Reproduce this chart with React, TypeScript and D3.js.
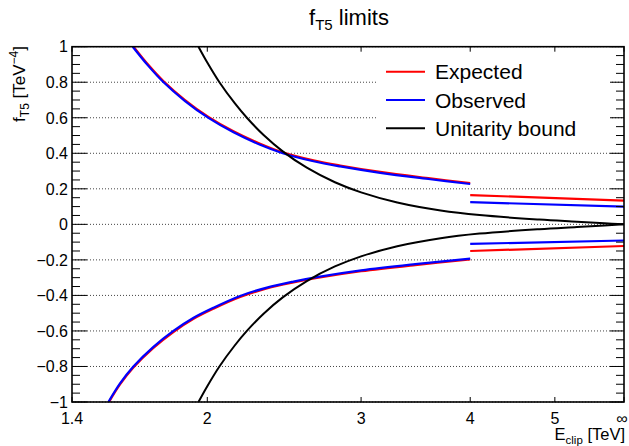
import React, { useEffect, useRef } from 'react';
import * as d3 from 'd3';

const W = 629;
const H = 446;
const FONT = 'Liberation Sans, Arial, Helvetica, sans-serif';

// limits below 4 TeV (upper branch)
const upperE = [1.643, 1.712, 1.781, 1.886, 2.006, 2.143, 2.299, 2.435, 2.646, 2.839, 3.155, 3.601, 4.0];
const upperObs = [1.0, 0.892, 0.801, 0.694, 0.599, 0.518, 0.448, 0.402, 0.355, 0.326, 0.29, 0.254, 0.227];
const upperExp = [1.006, 0.898, 0.807, 0.7, 0.605, 0.524, 0.454, 0.407, 0.36, 0.331, 0.295, 0.259, 0.232];

// limits below 4 TeV (lower branch)
const lowerE = [1.541, 1.589, 1.646, 1.734, 1.829, 1.927, 2.033, 2.181, 2.34, 2.51, 2.67, 3.0, 3.46, 4.0];
const lowerObs = [-1.0, -0.895, -0.8, -0.691, -0.6, -0.527, -0.469, -0.403, -0.356, -0.322, -0.297, -0.259, -0.224, -0.193];
const lowerExp = [-1.006, -0.901, -0.806, -0.697, -0.606, -0.533, -0.475, -0.409, -0.361, -0.327, -0.302, -0.264, -0.229, -0.198];

// 4 TeV .. infinity
const highE = [4.0, 6.0];
const highExpUp = [0.165, 0.133];
const highObsUp = [0.125, 0.1];
const highObsLow = [-0.11, -0.091];
const highExpLow = [-0.15, -0.122];

// unitarity bound
const unitE = [1.954, 2.0, 2.065, 2.15, 2.22, 2.32, 2.44, 2.6, 2.8, 3.0, 3.3, 3.7, 4.1, 4.8, 5.3, 5.7, 6.0];
const unitUp = [1.0, 0.911, 0.8, 0.682, 0.6, 0.503, 0.411, 0.319, 0.237, 0.18, 0.123, 0.078, 0.052, 0.027, 0.015, 0.006, 0.0];
const unitLow = [-1.0, -0.911, -0.8, -0.682, -0.6, -0.503, -0.411, -0.319, -0.237, -0.18, -0.123, -0.078, -0.052, -0.027, -0.015, -0.006, 0.0];

const xTickValues = [1.4, 2, 3, 4, 5, 6];
const xTickLabels = ['1.4', '2', '3', '4', '5', '\u221e'];
const yTickValues = [-1, -0.8, -0.6, -0.4, -0.2, 0, 0.2, 0.4, 0.6, 0.8, 1];

const legendNames = ['Expected', 'Observed', 'Unitarity bound'];
const legendColors = ['#ff0000', '#0000ff', '#000000'];

function App() {
  const ref = useRef<SVGSVGElement>(null);

  useEffect(() => {
    const svg = d3.select(ref.current);
    svg.selectAll('*').remove();

    const left = 72, right = 624, top = 46.7, bottom = 402;
    const x = d3.scaleLog().domain([1.4, 6]).range([left, right]);
    const y = d3.scaleLinear().domain([-1, 1]).range([bottom, top]);

    svg.append('rect').attr('width', W).attr('height', H).attr('fill', 'white');

    svg.append('defs').append('clipPath').attr('id', 'frame')
      .append('rect').attr('x', left).attr('y', top)
      .attr('width', right - left).attr('height', bottom - top);

    // horizontal dotted grid
    svg.append('g').selectAll('line')
      .data(yTickValues)
      .enter().append('line')
      .attr('x1', left).attr('x2', right)
      .attr('y1', d => y(d)).attr('y2', d => y(d))
      .attr('stroke', '#444').attr('stroke-width', 1)
      .attr('stroke-dasharray', '1,2');

    // legend box (white, hides grid)
    svg.append('rect').attr('x', 376).attr('y', 52).attr('width', 234).attr('height', 90).attr('fill', 'white');

    const line = (xs: number[], ys: number[]) =>
      d3.line<number>()
        .x((d, i) => x(xs[i]))
        .y(d => y(d))
        .curve(d3.curveCatmullRom.alpha(0.5))(ys);

    const curves = svg.append('g').attr('clip-path', 'url(#frame)');
    const draw = (xs: number[], ys: number[], color: string, w: number) =>
      curves.append('path').attr('d', line(xs, ys)).attr('fill', 'none')
        .attr('stroke', color).attr('stroke-width', w);

    draw(upperE, upperExp, '#ff0000', 2.2);
    draw(upperE, upperObs, '#0000ff', 2.2);
    draw(lowerE, lowerExp, '#ff0000', 2.2);
    draw(lowerE, lowerObs, '#0000ff', 2.2);
    draw(highE, highExpUp, '#ff0000', 2.2);
    draw(highE, highObsUp, '#0000ff', 2.2);
    draw(highE, highExpLow, '#ff0000', 2.2);
    draw(highE, highObsLow, '#0000ff', 2.2);
    draw(unitE, unitUp, '#000000', 2);
    draw(unitE, unitLow, '#000000', 2);

    // frame
    svg.append('rect').attr('x', left).attr('y', top)
      .attr('width', right - left).attr('height', bottom - top)
      .attr('fill', 'none').attr('stroke', 'black').attr('stroke-width', 1.6);

    // y ticks, major + minor, both sides
    const minor = y.ticks(50);
    const yt = svg.append('g');
    minor.forEach(v => {
      const major = yTickValues.some(m => Math.abs(m - v) < 1e-6);
      yt.append('line').attr('x1', left).attr('x2', left + (major ? 15 : 8))
        .attr('y1', y(v)).attr('y2', y(v)).attr('stroke', 'black').attr('stroke-width', 1);
      yt.append('line').attr('x1', right).attr('x2', right - (major ? 14 : 8))
        .attr('y1', y(v)).attr('y2', y(v)).attr('stroke', 'black').attr('stroke-width', 1);
    });

    svg.append('g').selectAll('text')
      .data(yTickValues)
      .enter().append('text')
      .attr('x', 68).attr('y', d => y(d)).attr('dy', '0.36em')
      .attr('text-anchor', 'end')
      .attr('font-family', FONT).attr('font-size', 16)
      .text(d => (d < 0 ? '\u2212' : '') + d3.format('')(Math.abs(d)));

    // x ticks
    const xt = svg.append('g');
    xTickValues.forEach(v => {
      xt.append('line').attr('x1', x(v)).attr('x2', x(v)).attr('y1', bottom).attr('y2', bottom - 5)
        .attr('stroke', 'black').attr('stroke-width', 1);
      xt.append('line').attr('x1', x(v)).attr('x2', x(v)).attr('y1', top).attr('y2', top + 5)
        .attr('stroke', 'black').attr('stroke-width', 1);
    });
    svg.append('g').selectAll('text')
      .data(xTickValues)
      .enter().append('text')
      .attr('x', (d, i) => x(d) - (i === xTickValues.length - 1 ? 2 : 0)).attr('y', 424)
      .attr('text-anchor', 'middle')
      .attr('font-family', FONT).attr('font-size', 16)
      .text((d, i) => xTickLabels[i]);

    // title
    const title = svg.append('text').attr('x', 349).attr('y', 25).attr('text-anchor', 'middle')
      .attr('font-family', FONT).attr('font-size', 22);
    title.append('tspan').text('f');
    title.append('tspan').attr('dy', 5).attr('font-size', 15).text('T5');
    title.append('tspan').attr('dy', -5).text(' limits');

    // axis titles
    const xtitle = svg.append('text').attr('x', 625).attr('y', 440).attr('text-anchor', 'end')
      .attr('font-family', FONT).attr('font-size', 16.5);
    xtitle.append('tspan').text('E');
    xtitle.append('tspan').attr('dy', 3.5).attr('font-size', 11.5).text('clip');
    xtitle.append('tspan').attr('dy', -3.5).text(' [TeV]');

    const ytitle = svg.append('text').attr('transform', 'translate(25,46) rotate(-90)')
      .attr('text-anchor', 'end').attr('font-family', FONT).attr('font-size', 17);
    ytitle.append('tspan').text('f');
    ytitle.append('tspan').attr('dy', 4).attr('font-size', 12).text('T5');
    ytitle.append('tspan').attr('dy', -4).text(' [TeV');
    ytitle.append('tspan').attr('dy', -7).attr('font-size', 12).text('\u22124');
    ytitle.append('tspan').attr('dy', 7).text(']');

    // legend
    const lg = svg.append('g');
    legendNames.forEach((name, i) => {
      const ly = 71.7 + i * 28.3;
      lg.append('line').attr('x1', 386).attr('x2', 425).attr('y1', ly).attr('y2', ly)
        .attr('stroke', legendColors[i]).attr('stroke-width', 2);
      lg.append('text').attr('x', 435).attr('y', ly + 7.6)
        .attr('font-family', FONT).attr('font-size', 21).text(name);
    });
  }, []);

  return (
    <svg ref={ref} width={W} height={H} style={{ position: 'absolute', left: 0, top: 0 }} />
  );
}

export default App;
